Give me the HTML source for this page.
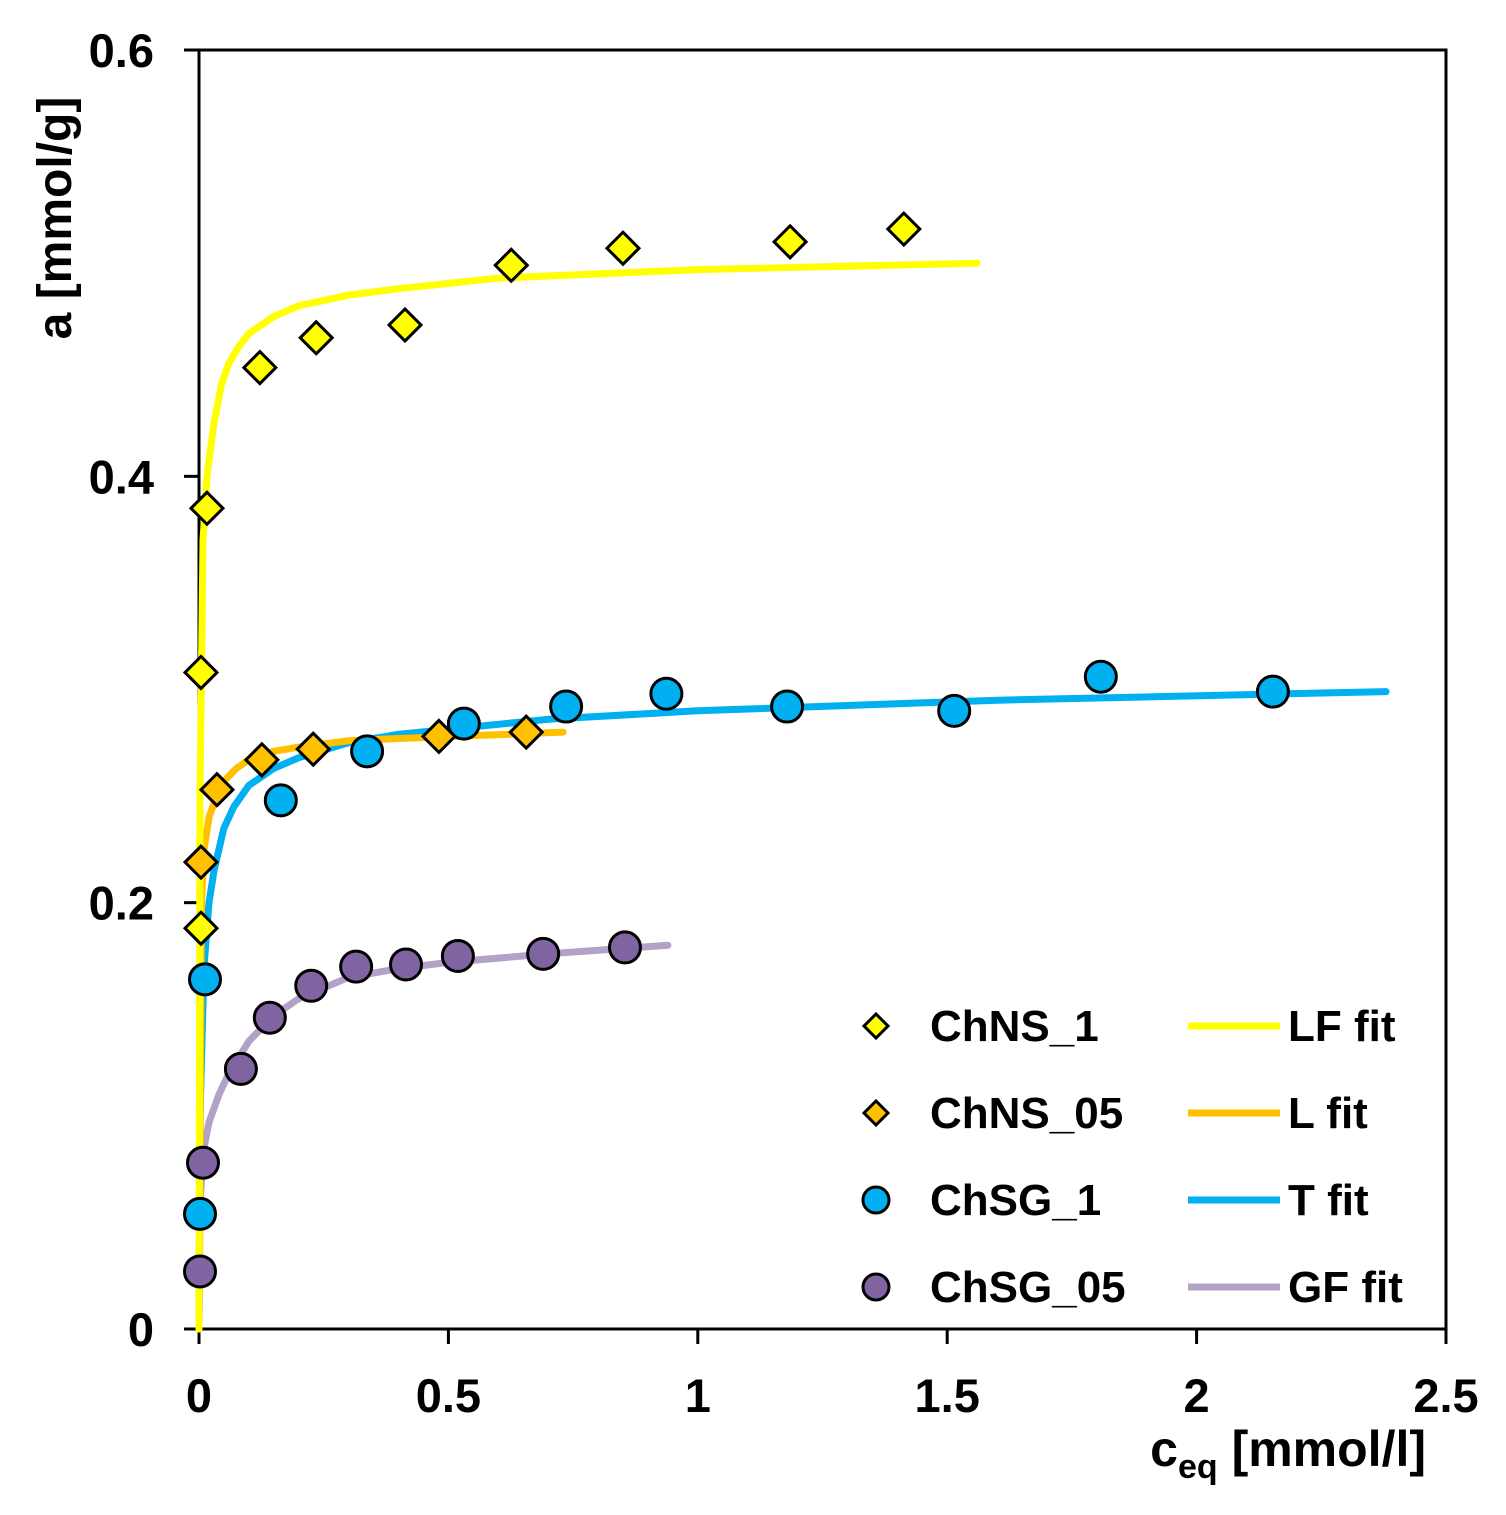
<!DOCTYPE html>
<html><head><meta charset="utf-8"><style>
html,body{margin:0;padding:0;background:#fff;}
svg{display:block;font-family:"Liberation Sans",Arial,sans-serif;font-weight:bold;}
</style></head><body>
<svg id="chart" width="1506" height="1515" viewBox="0 0 1506 1515"></svg>
<script>
const xTicks=[0,0.5,1,1.5,2,2.5];
const xTickLabels=["0","0.5","1","1.5","2","2.5"];
const yTicks=[0,0.2,0.4,0.6];
const yTickLabels=["0","0.2","0.4","0.6"];
const chns1C=[0.004,0.004,0.016,0.122,0.235,0.413,0.626,0.850,1.185,1.413];
const chns1A=[0.188,0.308,0.385,0.451,0.465,0.471,0.499,0.507,0.510,0.516];
const chns05C=[0.004,0.036,0.126,0.229,0.481,0.656];
const chns05A=[0.219,0.253,0.267,0.272,0.278,0.280];
const chsg1C=[0.002,0.012,0.164,0.337,0.531,0.736,0.937,1.179,1.514,1.808,2.153];
const chsg1A=[0.054,0.164,0.248,0.271,0.284,0.292,0.298,0.292,0.290,0.306,0.299];
const chsg05C=[0.002,0.008,0.084,0.142,0.225,0.315,0.415,0.519,0.690,0.854];
const chsg05A=[0.027,0.078,0.122,0.146,0.161,0.170,0.171,0.175,0.176,0.179];
const lfC=[0,0.002,0.008,0.016,0.03,0.045,0.06,0.08,0.1,0.15,0.2,0.3,0.4,0.6,1.0,1.56];
const lfA=[0,0.25,0.37,0.40,0.425,0.443,0.453,0.461,0.467,0.475,0.480,0.485,0.488,0.493,0.497,0.500];
const lC=[0,0.005,0.01,0.02,0.035,0.05,0.075,0.1,0.15,0.2,0.3,0.4,0.73];
const lA=[0,0.2,0.225,0.24,0.25,0.257,0.263,0.267,0.271,0.273,0.276,0.277,0.280];
const tC=[0,0.002,0.01,0.02,0.03,0.05,0.07,0.1,0.15,0.2,0.3,0.4,0.7,1.0,1.6,2.38];
const tA=[0,0.1,0.17,0.2,0.215,0.235,0.245,0.255,0.263,0.268,0.275,0.279,0.286,0.290,0.295,0.299];
const gfC=[0,0.002,0.01,0.02,0.04,0.06,0.1,0.15,0.2,0.3,0.4,0.5,0.7,0.94];
const gfA=[0,0.06,0.085,0.097,0.11,0.12,0.135,0.147,0.155,0.165,0.169,0.172,0.176,0.180];

const NS="http://www.w3.org/2000/svg";
const svg=document.getElementById('chart');
const X0=199,X1=1446,Y0=1329,Y1=50;
function sx(v){return X0+(X1-X0)*v/2.5;}
function sy(v){return Y0-(Y0-Y1)*v/0.6;}
function mk(tag,attrs,parent){const e=document.createElementNS(NS,tag);for(const k in attrs)e.setAttribute(k,attrs[k]);(parent||svg).appendChild(e);return e;}

let r=mk('rect',{x:X0,y:Y1,width:X1-X0,height:Y0-Y1,fill:'none',stroke:'#000','stroke-width':3});


xTicks.forEach((v,i)=>{
  let t=mk('line',{x1:sx(v),x2:sx(v),y1:Y0,y2:Y0+15,stroke:'#000','stroke-width':3});
  
  
  let l=mk('text',{x:sx(v),y:1412,'text-anchor':'middle','font-size':47});
  l.textContent=xTickLabels[i];
  
  
});
yTicks.forEach((v,i)=>{
  let t=mk('line',{x1:X0-15,x2:X0,y1:sy(v),y2:sy(v),stroke:'#000','stroke-width':3});
  
  
  let l=mk('text',{x:154,y:sy(v)+17,'text-anchor':'end','font-size':47});
  l.textContent=yTickLabels[i];
  
  
});
let yt=mk('text',{x:0,y:0,'font-size':48,'text-anchor':'middle',transform:'translate(71,218) rotate(-90)'});
yt.textContent='a [mmol/g]';


let xt=mk('text',{x:1426,y:1466,'font-size':50,'text-anchor':'end'});
xt.innerHTML='c<tspan font-size="34" dy="12">eq</tspan><tspan dy="-12"> [mmol/l]</tspan>';



function line(cs,as,color,name){
  let d=cs.map((c,i)=>(i?'L':'M')+sx(c).toFixed(1)+','+sy(as[i]).toFixed(1)).join(' ');
  let p=mk('path',{d:d,fill:'none',stroke:color,'stroke-width':7,'stroke-linejoin':'round','stroke-linecap':'round'});
  
  
}
function diamond(x,y,color,name){
  let s=16;
  let p=mk('polygon',{points:`${x},${y-s} ${x+s},${y} ${x},${y+s} ${x-s},${y}`,fill:color,stroke:'#000','stroke-width':3});
  
  
}
function circle(x,y,color,name){
  let c=mk('circle',{cx:x,cy:y,r:15.5,fill:color,stroke:'#000','stroke-width':3});
  
  
}
line(gfC,gfA,'#b3a2c7','gf-fit-line');
line(tC,tA,'#00b0f0','t-fit-line');
line(lC,lA,'#ffc000','l-fit-line');
line(lfC,lfA,'#ffff00','lf-fit-line');
chsg05C.forEach((c,i)=>circle(sx(c),sy(chsg05A[i]),'#8064a2','chsg05-point'));
chsg1C.forEach((c,i)=>circle(sx(c),sy(chsg1A[i]),'#00b0f0','chsg1-point'));
chns05C.forEach((c,i)=>diamond(sx(c),sy(chns05A[i]),'#ffc000','chns05-point'));
chns1C.forEach((c,i)=>diamond(sx(c),sy(chns1A[i]),'#ffff00','chns1-point'));

const legNames=['ChNS_1','ChNS_05','ChSG_1','ChSG_05'];
const legFits=['LF fit','L fit','T fit','GF fit'];
const legColors=['#ffff00','#ffc000','#00b0f0','#8064a2'];
const legLine=['#ffff00','#ffc000','#00b0f0','#b3a2c7'];
legNames.forEach((n,i)=>{
  let y=1026+i*87;
  if(i<2){let s=12;let p=mk('polygon',{points:`876,${y-s} ${876+s},${y} 876,${y+s} ${876-s},${y}`,fill:legColors[i],stroke:'#000','stroke-width':3});
    
    }
  else{let c=mk('circle',{cx:876,cy:y,r:13,fill:legColors[i],stroke:'#000','stroke-width':3});
    
    }
  let t=mk('text',{x:930,y:y+15,'font-size':44});t.textContent=n;
  
  
  let l=mk('line',{x1:1188,x2:1280,y1:y,y2:y,stroke:legLine[i],'stroke-width':7});
  
  
  let f=mk('text',{x:1288,y:y+15,'font-size':44});f.textContent=legFits[i];
  
  
});
</script>
</body></html>
